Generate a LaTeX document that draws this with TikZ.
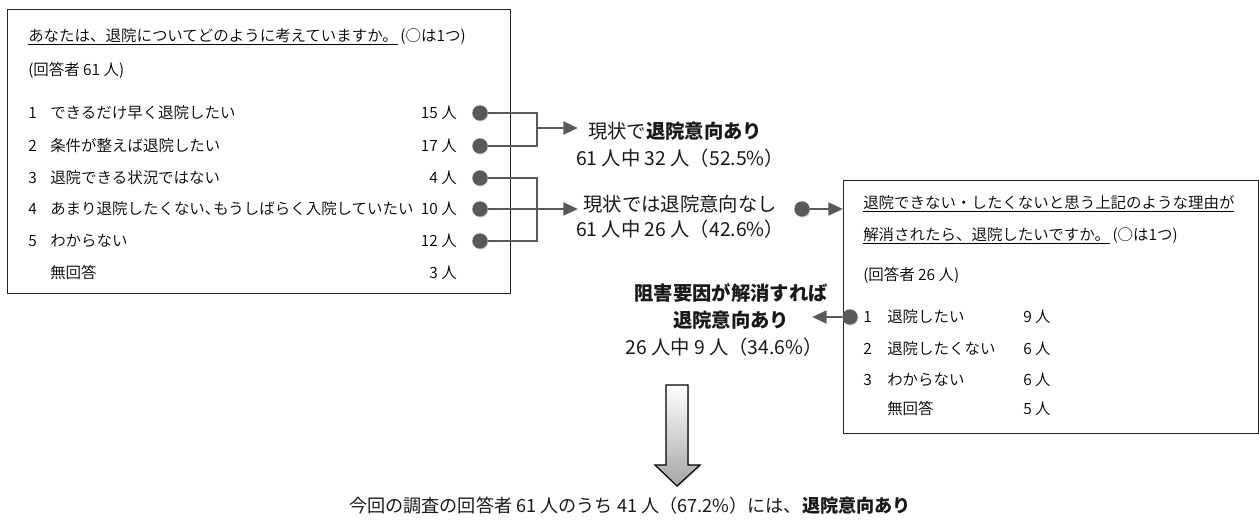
\documentclass[tikz,border=0pt]{standalone}
\usepackage{fontspec}
\setmainfont{Noto Sans CJK JP}
\newfontfamily\boxfont{Noto Sans CJK JP DemiLight}
\usetikzlibrary{arrows.meta,shadows}
\definecolor{connc}{HTML}{595959}
\tikzset{
  frame/.style={draw=black!85, line width=0.9pt, inner sep=0pt},
  boxtxt/.style={font=\boxfont\fontsize{11.6pt}{14pt}\selectfont, inner sep=0pt, anchor=west},
  boxnum/.style={boxtxt, anchor=east},
  midtxt/.style={font=\fontsize{14.5pt}{17pt}\selectfont, inner sep=0pt, text=black!90},
  dotnode/.style={circle, fill=connc, minimum size=11.5pt, inner sep=0pt,
    drop shadow={shadow xshift=0.6pt, shadow yshift=-0.8pt, opacity=0.25}},
  conn/.style={draw=connc, line width=2.2pt},
  arr/.style={conn, -{Triangle[length=11pt,width=9.5pt]}},
}
\begin{document}
\begin{tikzpicture}[x=0.75pt, y=-0.75pt]
\useasboundingbox (0,0) rectangle (1259,519);

% first question
\node[frame, anchor=north west, minimum width=377.25pt, minimum height=213pt] (q1) at (7,9) {};
\node[boxtxt] (q1t) at (28,37) {\underline{あなたは、退院についてどのように考えていますか。}\,(○は1つ)};
\node[boxtxt] (q1n) at (28,70) {(回答者 61 人)};
\node[boxtxt] (a1n) at (28,113) {1};
\node[boxtxt] (a1) at (50,113) {できるだけ早く退院したい};
\node[boxnum] (a1c) at (457,113) {15 人};
\node[boxtxt] (a2n) at (28,146) {2};
\node[boxtxt] (a2) at (50,146) {条件が整えば退院したい};
\node[boxnum] (a2c) at (457,146) {17 人};
\node[boxtxt] (a3n) at (28,178) {3};
\node[boxtxt] (a3) at (50,178) {退院できる状況ではない};
\node[boxnum] (a3c) at (457,178) {4 人};
\node[boxtxt] (a4n) at (28,209) {4};
\node[boxtxt] (a4) at (50,209) {あまり退院したくない、\hspace{-0.45em}もうしばらく入院していたい};
\node[boxnum] (a4c) at (457,209) {10 人};
\node[boxtxt] (a5n) at (28,241) {5};
\node[boxtxt] (a5) at (50,241) {わからない};
\node[boxnum] (a5c) at (457,241) {12 人};
\node[boxtxt] (a6) at (50,273) {無回答};
\node[boxnum] (a6c) at (457,273) {3 人};

% dots on the answers
\node[dotnode] (d1) at (480,113) {};
\node[dotnode] (d2) at (480,146) {};
\node[dotnode] (d3) at (480,178) {};
\node[dotnode] (d4) at (480,209) {};
\node[dotnode] (d5) at (480,241) {};

% group: wants discharge now
\coordinate (ja) at (537,128);
\coordinate (ta) at (578,128);
\draw[conn] (d1) -| (ja) |- (d2);
\draw[arr] (ja) -- (ta);
\node[midtxt] (r1) at (675,131) {現状で\textbf{退院意向あり}};
\node[midtxt] (r1b) at (680,158) {61 人中 32 人（52.5\%）};

% group: no wish for discharge now
\coordinate (jb) at (537,209);
\coordinate (tb) at (578,209);
\draw[conn] (d3) -| (jb) |- (d5);
\draw[conn] (d4) -- (jb);
\draw[arr] (jb) -- (tb);
\node[midtxt] (r2) at (680,204) {現状では退院意向なし};
\node[midtxt] (r2b) at (680,229) {61 人中 26 人（42.6\%）};

% second question
\node[frame, anchor=north west, minimum width=310.9pt, minimum height=189.75pt] (q2) at (843,180) {};
\node[boxtxt] (q2t) at (863,204) {\underline{退院できない・したくないと思う上記のような理由が}};
\node[boxtxt] (q2u) at (863,236) {\underline{解消されたら、退院したいですか。}\,(○は1つ)};
\node[boxtxt] (q2n) at (863,275) {(回答者 26 人)};
\node[boxtxt] (b1n) at (863,317) {1};
\node[boxtxt] (b1) at (887,317) {退院したい};
\node[boxtxt] (b1c) at (1023,317) {9 人};
\node[boxtxt] (b2n) at (863,349) {2};
\node[boxtxt] (b2) at (887,349) {退院したくない};
\node[boxtxt] (b2c) at (1023,349) {6 人};
\node[boxtxt] (b3n) at (863,380) {3};
\node[boxtxt] (b3) at (887,380) {わからない};
\node[boxtxt] (b3c) at (1023,380) {6 人};
\node[boxtxt] (b4) at (887,409) {無回答};
\node[boxtxt] (b4c) at (1023,409) {5 人};

\node[dotnode] (d6) at (802,209) {};
\draw[arr] (d6) -- (d6 -| q2.west);

\node[dotnode] (d7) at (850,317) {};
\coordinate (tc) at (812,317);
\draw[arr] (d7) -- (tc);
\node[midtxt] (r3) at (731,293) {\textbf{阻害要因が解消すれば}};
\node[midtxt] (r3b) at (731,320) {\textbf{退院意向あり}};
\node[midtxt] (r3c) at (724,347) {26 人中 9 人（34.6\%）};

% summary arrow
\draw[line width=0.9pt, top color=white, bottom color=black!35,
      drop shadow={shadow xshift=1pt, shadow yshift=-1pt, opacity=0.3}]
  (666,385) -- (688,385) -- (688,465) -- (700,465) -- (677,486)
  -- (655,465) -- (666,465) -- cycle;

\node[midtxt, font=\fontsize{13.6pt}{16pt}\selectfont] (sum) at (630,506)
  {今回の調査の回答者 61 人のうち 41 人（67.2\%）には、\textbf{退院意向あり}};
\end{tikzpicture}
\end{document}
